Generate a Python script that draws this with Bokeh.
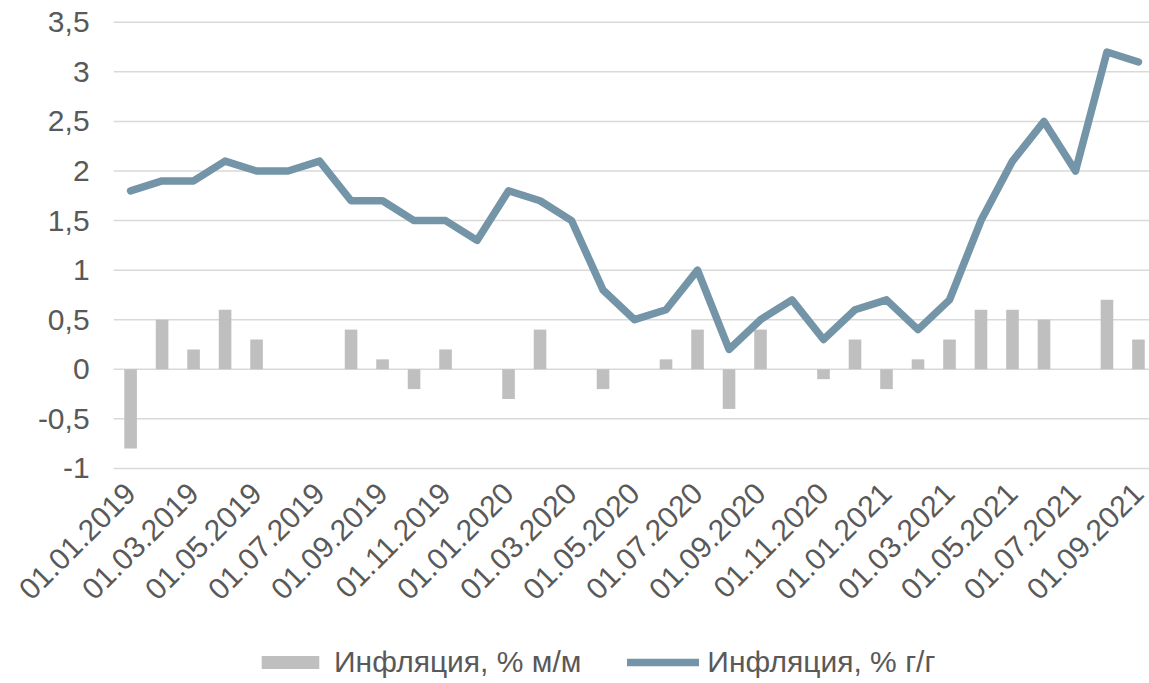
from math import pi
from bokeh.plotting import figure
from bokeh.models import FixedTicker, Legend, LegendItem, Range1d
from bokeh.embed import file_html
from bokeh.resources import INLINE

dates = ["01.01.2019", "01.02.2019", "01.03.2019", "01.04.2019", "01.05.2019", "01.06.2019",
         "01.07.2019", "01.08.2019", "01.09.2019", "01.10.2019", "01.11.2019", "01.12.2019",
         "01.01.2020", "01.02.2020", "01.03.2020", "01.04.2020", "01.05.2020", "01.06.2020",
         "01.07.2020", "01.08.2020", "01.09.2020", "01.10.2020", "01.11.2020", "01.12.2020",
         "01.01.2021", "01.02.2021", "01.03.2021", "01.04.2021", "01.05.2021", "01.06.2021",
         "01.07.2021", "01.08.2021", "01.09.2021"]

infl_mom = [-0.8, 0.5, 0.2, 0.6, 0.3, 0.0, 0.0, 0.4, 0.1, -0.2, 0.2, 0.0,
            -0.3, 0.4, 0.0, -0.2, 0.0, 0.1, 0.4, -0.4, 0.4, 0.0, -0.1, 0.3,
            -0.2, 0.1, 0.3, 0.6, 0.6, 0.5, 0.0, 0.7, 0.3]

infl_yoy = [1.8, 1.9, 1.9, 2.1, 2.0, 2.0, 2.1, 1.7, 1.7, 1.5, 1.5, 1.3,
            1.8, 1.7, 1.5, 0.8, 0.5, 0.6, 1.0, 0.2, 0.5, 0.7, 0.3, 0.6,
            0.7, 0.4, 0.7, 1.5, 2.1, 2.5, 2.0, 3.2, 3.1]

y_ticks = [-1, -0.5, 0, 0.5, 1, 1.5, 2, 2.5, 3, 3.5]

label_mom = "Инфляция, % м/м"
label_yoy = "Инфляция, % г/г"

FONT = "Liberation Sans"
TXT = "#595959"
FS = "30px"

x = list(range(len(dates)))

# plotting area of the chart (category -0.54 .. 32.35); the frame is wider so that
# the axis labels and the legend can be drawn inside it without clipping
X_LO, X_HI = -0.54, 32.35

p = figure(width=1149, height=683, output_backend="svg", toolbar_location=None,
           x_range=Range1d(-4.13, X_HI), y_range=Range1d(-3.17, 3.72),
           min_border_left=0, min_border_top=0, min_border_right=0,
           min_border_bottom=0)
p.outline_line_color = None
p.background_fill_color = "white"
p.border_fill_color = "white"

# horizontal grid lines at the y ticks, limited to the plotting area
p.xgrid.visible = False
p.ygrid.visible = False
p.segment(x0=[X_LO] * len(y_ticks), x1=[X_HI] * len(y_ticks), y0=y_ticks, y1=y_ticks,
          line_color="#D9D9D9", line_width=1.5)

bars = p.vbar(x=x, top=infl_mom, bottom=0, width=0.4,
              fill_color="#BFBFBF", line_color=None)
line = p.line(x=x, y=infl_yoy, line_width=7.5, line_color="#7495A8",
              line_join="round", line_cap="round")

xa = p.xaxis[0]
xa.fixed_location = y_ticks[0]
xa.ticker = FixedTicker(ticks=x[::2])
xa.major_label_overrides = {i: dates[i] for i in x[::2]}
xa.major_label_orientation = pi / 4
xa.major_label_standoff = 20

ya = p.yaxis[0]
ya.fixed_location = X_LO
ya.ticker = FixedTicker(ticks=y_ticks)
ya.major_label_overrides = {t: f"{t:g}".replace(".", ",") for t in y_ticks}
ya.major_label_standoff = 24

for ax in (xa, ya):
    ax.axis_line_color = None
    ax.major_tick_line_color = None
    ax.minor_tick_line_color = None
    ax.major_tick_out = 0
    ax.major_tick_in = 0
    ax.minor_tick_out = 0
    ax.major_label_text_font = FONT
    ax.major_label_text_font_size = FS
    ax.major_label_text_color = TXT

legend = Legend(items=[LegendItem(label=label_mom, renderers=[bars]),
                       LegendItem(label=label_yoy, renderers=[line])],
                location=(254, 4), orientation="horizontal",
                border_line_color=None, background_fill_alpha=0,
                padding=0, margin=0, spacing=46, label_standoff=8,
                glyph_width=72, glyph_height=16,
                label_text_font=FONT, label_text_font_size=FS,
                label_text_color=TXT)
p.add_layout(legend)

open("out.html", "w").write(file_html(p, INLINE))
